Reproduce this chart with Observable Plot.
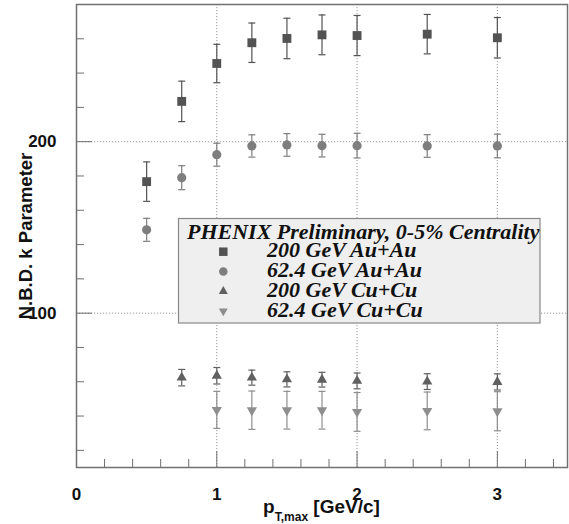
<!DOCTYPE html>
<html><head><meta charset="utf-8">
<script src="https://cdn.jsdelivr.net/npm/d3@7"></script>
<script src="https://cdn.jsdelivr.net/npm/@observablehq/plot@0.6"></script>
<style>
body{margin:0;background:#fff;}
#wrap{position:relative;width:569px;height:524px;}
#wrap svg.overlay{position:absolute;left:0;top:0;pointer-events:none;}
</style></head><body><div id="wrap"></div>
<script>
// ---- data ----
const pTAuAu = [0.5, 0.75, 1.0, 1.25, 1.5, 1.75, 2.0, 2.5, 3.0];
const kAuAu200 = [176.7, 223.5, 245.6, 257.7, 260.2, 262.3, 261.9, 262.7, 260.6];
const eAuAu200 = [11.5, 11.8, 11.2, 11.5, 11.8, 11.6, 11.7, 11.5, 11.8];
const kAuAu62 = [148.6, 179.0, 192.4, 197.5, 198.1, 197.7, 197.7, 197.5, 197.5];
const eAuAu62 = [6.7, 7.0, 6.7, 6.5, 6.6, 6.6, 7.2, 6.6, 6.9];
const pTCuCu200 = [0.75, 1.0, 1.25, 1.5, 1.75, 2.0, 2.5, 3.0];
const kCuCu200 = [62.4, 63.5, 62.4, 61.4, 61.2, 60.5, 60.1, 59.9];
const eCuCu200 = [4.8, 4.8, 4.4, 4.4, 4.3, 4.6, 4.6, 4.7];
const pTCuCu62 = [1.0, 1.25, 1.5, 1.75, 2.0, 2.5, 3.0];
const kCuCu62 = [43.6, 43.4, 43.4, 43.4, 42.4, 43.0, 42.8];
const eCuCu62 = [10.8, 11.2, 11.0, 11.0, 11.3, 11.0, 11.4];

const seriesNames = ["200 GeV Au+Au", "62.4 GeV Au+Au", "200 GeV Cu+Cu", "62.4 GeV Cu+Cu"];
const legendTitle = "PHENIX Preliminary, 0-5% Centrality";
const xTickLabels = [0, 1, 2, 3];
const xMajorTicks = [1, 2, 3];
const xMinorTicks = [0.2, 0.4, 0.6, 0.8, 1.2, 1.4, 1.6, 1.8, 2.2, 2.4, 2.6, 2.8, 3.2, 3.4];
const yTickLabels = [100, 200];
const yMinorTicks = [20, 40, 60, 80, 120, 140, 160, 180, 220, 240, 260];
const xTitleMain = "p", xTitleSub = "T,max", xTitleUnit = " [GeV/c]";
const yTitle = "N.B.D. k Parameter";

// ---- styles ----
const colors = ["#535353", "#7e7e7e", "#606060", "#8e8e8e"];
const triDown = {draw(ctx, size) {
  const y = -Math.sqrt(size / (Math.sqrt(3) * 3));
  ctx.moveTo(0, -y * 2); ctx.lineTo(-Math.sqrt(3) * y, y); ctx.lineTo(Math.sqrt(3) * y, y); ctx.closePath();
}};
const capSym = {draw(ctx) { ctx.moveTo(-3.5, 0); ctx.lineTo(3.5, 0); }};
const symbols = ["square", "circle", "triangle", triDown];
const radii = [5, 4.6, 3.8, 3.8];

const series = [
  [pTAuAu, kAuAu200, eAuAu200],
  [pTAuAu, kAuAu62, eAuAu62],
  [pTCuCu200, kCuCu200, eCuCu200],
  [pTCuCu62, kCuCu62, eCuCu62]
];
const rows = series.flatMap(([xs, ks, es], s) => xs.map((x, i) => ({x, k: ks[i], lo: ks[i] - es[i], hi: ks[i] + es[i], s})));

const W = 569, H = 524, ML = 76, MR = 2, MT = 4, MB = 57;
const axisCol = "#707070";
const plot = Plot.plot({
  width: W, height: H, marginLeft: ML, marginRight: MR, marginTop: MT, marginBottom: MB,
  x: {domain: [0, 3.5]},
  y: {domain: [10, 280]},
  style: {fontFamily: "'Liberation Sans', Arial, sans-serif", background: "#fff", color: "#111"},
  marks: [
    Plot.ruleX(xMajorTicks, {stroke: "#999", strokeDasharray: "1.2,1.8"}),
    Plot.ruleY(yTickLabels, {stroke: "#999", strokeDasharray: "1.2,1.8"}),
    Plot.axisX(xMinorTicks, {anchor: "bottom", tickSize: -8, text: null, label: null, stroke: axisCol}),
    Plot.axisX(xMajorTicks, {anchor: "bottom", tickSize: -16, text: null, label: null, stroke: axisCol}),
    Plot.axisX(xTickLabels, {anchor: "bottom", tickSize: 0, tickPadding: 20, label: null, fontSize: 17, fontWeight: "bold", tickFormat: d => String(d)}),
    Plot.axisY(yMinorTicks, {anchor: "left", tickSize: -8, text: null, label: null, stroke: axisCol}),
    Plot.axisY(yTickLabels, {anchor: "left", tickSize: -16, tickPadding: 20 + 16, label: null, fontSize: 17, fontWeight: "bold", stroke: axisCol}),
    Plot.frame({stroke: axisCol, strokeWidth: 1.5}),
    Plot.ruleX(rows, {x: "x", y1: "lo", y2: "hi", stroke: d => colors[d.s], strokeWidth: 1.2}),
    Plot.dot(rows, {x: "x", y: "lo", symbol: () => capSym, fill: "none", stroke: d => colors[d.s], strokeWidth: 1.2}),
    Plot.dot(rows, {x: "x", y: "hi", symbol: () => capSym, fill: "none", stroke: d => colors[d.s], strokeWidth: 1.2}),
    ...[0, 1, 2, 3].map(s => Plot.dot(rows.filter(d => d.s === s), {x: "x", y: "k", symbol: symbols[s], r: radii[s], fill: colors[s], stroke: "none"}))
  ]
});
const wrap = document.getElementById("wrap");
wrap.appendChild(plot);

// ---- overlay: axis titles and legend ----
const ov = d3.select(wrap).append("svg").attr("class", "overlay").attr("width", W).attr("height", H)
  .style("font-family", "'Liberation Sans', Arial, sans-serif");
const xt = ov.append("text").attr("x", (ML + W - MR) / 2).attr("y", 513).attr("text-anchor", "middle")
  .attr("font-size", 19).attr("font-weight", "bold").attr("fill", "#111");
xt.append("tspan").text(xTitleMain);
xt.append("tspan").attr("font-size", 12).attr("dy", 8).text(xTitleSub);
xt.append("tspan").attr("dy", -8).text(xTitleUnit);
ov.append("text").attr("transform", "translate(32,236) rotate(-90)").attr("text-anchor", "middle")
  .attr("font-size", 18.5).attr("font-weight", "bold").attr("fill", "#111").text(yTitle);

const lg = ov.append("g").style("font-family", "'Liberation Serif', 'Times New Roman', serif")
  .style("font-weight", "bold").style("font-style", "italic").attr("fill", "#111");
lg.append("rect").attr("x", 178.5).attr("y", 218.5).attr("width", 361.5).attr("height", 104.5)
  .attr("fill", "#efefef").attr("stroke", "#888").attr("stroke-width", 1.2);
lg.append("text").attr("x", 187).attr("y", 238.5).attr("font-size", 22).text(legendTitle);
const legSyms = [d3.symbolSquare, d3.symbolCircle, d3.symbolTriangle, triDown];
const legSizes = [72, 57, 35, 35];
seriesNames.forEach((name, i) => {
  const yc = 251.7 + i * 19.8;
  lg.append("path").attr("transform", `translate(223.3,${yc})`)
    .attr("d", d3.symbol(legSyms[i], legSizes[i])()).attr("fill", colors[i]);
  lg.append("text").attr("x", 267).attr("y", yc + 5.5).attr("font-size", 22).text(name);
});
</script></body></html>
